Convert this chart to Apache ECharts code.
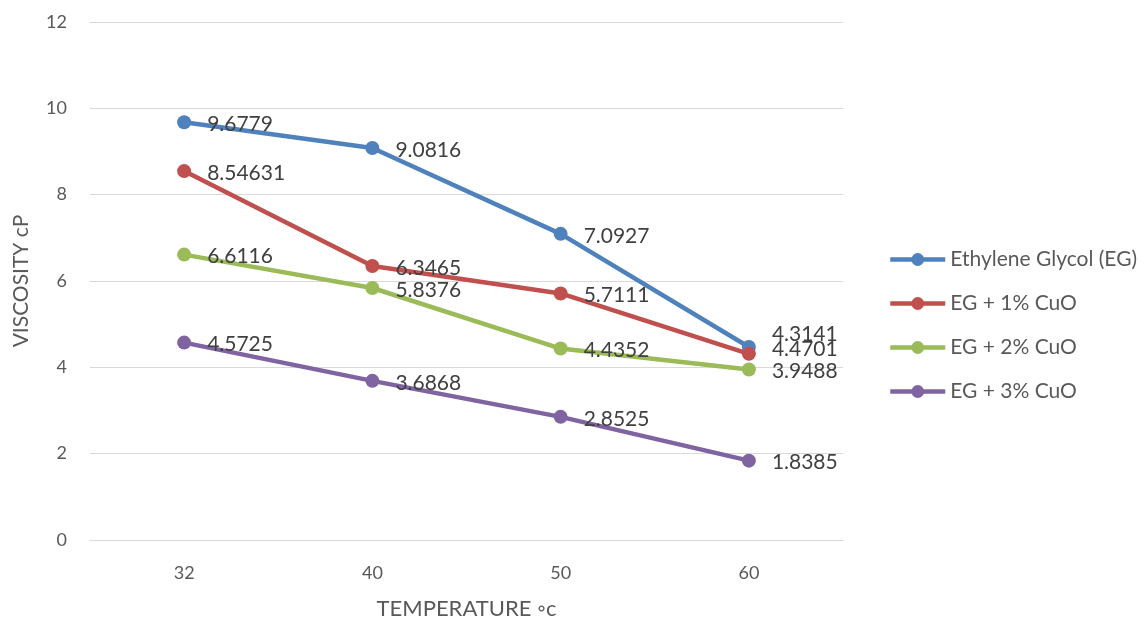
<!DOCTYPE html>
<html>
<head>
<meta charset="utf-8">
<script src="https://cdn.jsdelivr.net/npm/echarts@6/dist/echarts.min.js"></script>
<style>html,body{margin:0;padding:0;background:#fff;}</style>
</head>
<body>
<div id="chart_con" style="width:1147px;height:621px;"></div>
<script>
// temperature categories
var temps = ['32', '40', '50', '60'];
var eg = [9.6779, 9.0816, 7.0927, 4.4701];
var eg1 = [8.54631, 6.3465, 5.7111, 4.3141];
var eg2 = [6.6116, 5.8376, 4.4352, 3.9488];
var eg3 = [4.5725, 3.6868, 2.8525, 1.8385];
var names = ['Ethylene Glycol (EG)', 'EG + 1% CuO', 'EG + 2% CuO', 'EG + 3% CuO'];
var colors = ['#4F81BD', '#C0504D', '#9BBB59', '#8064A2'];

var font = 'Lato';

function mkSeries(name, data, color, lastOffset) {
    var pts = data.map(function (v, i) {
        var p = {value: v};
        if (i === data.length - 1 && lastOffset) {
            p.label = {offset: lastOffset};
        }
        return p;
    });
    return {
        name: name,
        type: 'line',
        data: pts,
        symbol: 'circle',
        symbolSize: 14,
        lineStyle: {width: 4.5, color: color},
        itemStyle: {color: color},
        label: {
            show: true,
            position: 'right',
            distance: 16,
            offset: [0, 2],
            color: '#404040',
            fontFamily: font,
            fontSize: 21
        },
        emphasis: {disabled: true}
    };
}

var chart = echarts.init(document.getElementById('chart_con'));
chart.setOption({
    animation: false,
    color: colors,
    grid: {left: 90, right: 304, top: 22, bottom: 81, outerBoundsMode: 'none'},
    legend: {
        orient: 'vertical',
        left: 883,
        top: 244,
        itemWidth: 55,
        itemHeight: 16,
        itemGap: 23,
        lineStyle: {width: 4.5},
        textStyle: {color: '#595959', fontFamily: font, fontSize: 21},
        data: names
    },
    xAxis: {
        type: 'category',
        data: temps,
        boundaryGap: true,
        name: 'TEMPERATURE \u25E6c',
        nameLocation: 'middle',
        nameGap: 58,
        nameTextStyle: {color: '#595959', fontFamily: font, fontSize: 22},
        axisLine: {lineStyle: {color: '#D9D9D9', width: 1}},
        axisTick: {show: false},
        axisLabel: {color: '#595959', fontFamily: font, fontSize: 18, margin: 24}
    },
    yAxis: {
        type: 'value',
        min: 0,
        max: 12,
        interval: 2,
        name: 'VISCOSITY cP',
        nameLocation: 'middle',
        nameGap: 58,
        nameTextStyle: {color: '#595959', fontFamily: font, fontSize: 21},
        axisLine: {show: false},
        axisTick: {show: false},
        axisLabel: {color: '#595959', fontFamily: font, fontSize: 18, margin: 23},
        splitLine: {lineStyle: {color: '#D9D9D9', width: 1}}
    },
    series: [
        mkSeries(names[0], eg, colors[0]),
        mkSeries(names[1], eg1, colors[1], [0, -20]),
        mkSeries(names[2], eg2, colors[2]),
        mkSeries(names[3], eg3, colors[3])
    ]
});
</script>
</body>
</html>
